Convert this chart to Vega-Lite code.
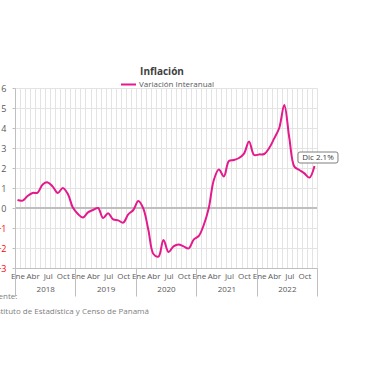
{
  "$schema": "https://vega.github.io/schema/vega-lite/v6.json",
  "width": 302,
  "height": 180,
  "autosize": {"type": "none"},
  "padding": {"left": 15, "top": 88, "right": 63, "bottom": 112},
  "background": "white",
  "title": {"text": "Inflación", "fontSize": 10, "fontWeight": "bold", "color": "#404040", "offset": -1, "dx": -4, "font": "Open Sans"},
  "config": {"view": {"stroke": null}, "font": "Open Sans"},
  "data": {"values": [
    {"n": 1, "v": 0.4}, {"n": 2, "v": 0.37}, {"n": 3, "v": 0.6}, {"n": 4, "v": 0.75}, {"n": 5, "v": 0.77}, {"n": 6, "v": 1.18},
    {"n": 7, "v": 1.28}, {"n": 8, "v": 1.07}, {"n": 9, "v": 0.75}, {"n": 10, "v": 1.0}, {"n": 11, "v": 0.7}, {"n": 12, "v": 0.02},
    {"n": 13, "v": -0.3}, {"n": 14, "v": -0.48}, {"n": 15, "v": -0.22}, {"n": 16, "v": -0.1}, {"n": 17, "v": 0.0}, {"n": 18, "v": -0.5},
    {"n": 19, "v": -0.26}, {"n": 20, "v": -0.57}, {"n": 21, "v": -0.62}, {"n": 22, "v": -0.73}, {"n": 23, "v": -0.32}, {"n": 24, "v": -0.1},
    {"n": 25, "v": 0.35}, {"n": 26, "v": -0.03}, {"n": 27, "v": -1.1}, {"n": 28, "v": -2.3}, {"n": 29, "v": -2.43}, {"n": 30, "v": -1.6},
    {"n": 31, "v": -2.2}, {"n": 32, "v": -1.92}, {"n": 33, "v": -1.83}, {"n": 34, "v": -1.92}, {"n": 35, "v": -2.02}, {"n": 36, "v": -1.58},
    {"n": 37, "v": -1.4}, {"n": 38, "v": -0.85}, {"n": 39, "v": 0.0}, {"n": 40, "v": 1.4}, {"n": 41, "v": 1.92}, {"n": 42, "v": 1.58},
    {"n": 43, "v": 2.35}, {"n": 44, "v": 2.4}, {"n": 45, "v": 2.5}, {"n": 46, "v": 2.72}, {"n": 47, "v": 3.32}, {"n": 48, "v": 2.65},
    {"n": 49, "v": 2.68}, {"n": 50, "v": 2.7}, {"n": 51, "v": 3.0}, {"n": 52, "v": 3.48}, {"n": 53, "v": 4.0}, {"n": 54, "v": 5.15},
    {"n": 55, "v": 3.5}, {"n": 56, "v": 2.07}, {"n": 57, "v": 1.9}, {"n": 58, "v": 1.73}, {"n": 59, "v": 1.52}, {"n": 60, "v": 2.1}
  ]},
  "layer": [
    {
      "mark": {"type": "rule", "color": "#BFBFBF", "strokeWidth": 2},
      "encoding": {
        "x": {"datum": 0.5, "type": "quantitative", "scale": {"domain": [0.5, 60.5], "nice": false, "zero": false},
          "axis": {"orient": "bottom", "values": [0.5,1.5,2.5,3.5,4.5,5.5,6.5,7.5,8.5,9.5,10.5,11.5,12.5,13.5,14.5,15.5,16.5,17.5,18.5,19.5,20.5,21.5,22.5,23.5,24.5,25.5,26.5,27.5,28.5,29.5,30.5,31.5,32.5,33.5,34.5,35.5,36.5,37.5,38.5,39.5,40.5,41.5,42.5,43.5,44.5,45.5,46.5,47.5,48.5,49.5,50.5,51.5,52.5,53.5,54.5,55.5,56.5,57.5,58.5,59.5,60.5],
            "grid": true, "gridColor": "#E3E3E3", "gridWidth": 1, "labels": false, "ticks": false, "domain": true, "domainColor": "#BFBFBF", "title": null}},
        "x2": {"datum": 60.5},
        "y": {"datum": 0, "type": "quantitative", "scale": {"domain": [-3, 6], "nice": false, "zero": false},
          "axis": {"orient": "left", "values": [-3,-2,-1,0,1,2,3,4,5,6], "grid": true, "gridColor": "#E3E3E3", "domain": true, "domainColor": "#BFBFBF",
            "ticks": true, "tickSize": 3, "tickColor": "#BFBFBF", "labelPadding": 6, "labelFontSize": 9,
            "labelColor": {"condition": {"test": "datum.value < 0", "value": "#FF0000"}, "value": "#595959"}, "title": null}}
      }
    },
    {
      "mark": {"type": "line", "interpolate": "catmull-rom", "strokeWidth": 2},
      "encoding": {
        "x": {"field": "n", "type": "quantitative",
          "axis": {"orient": "bottom", "values": [1,4,7,10,13,16,19,22,25,28,31,34,37,40,43,46,49,52,55,58],
            "labelExpr": "['Ene','Abr','Jul','Oct'][((datum.value-1)%12)/3]", "grid": false, "ticks": false, "domain": false,
            "labelFontSize": 8, "labelColor": "#595959", "labelPadding": 4, "labelFlush": false, "labelOverlap": false, "title": null}},
        "y": {"field": "v", "type": "quantitative", "axis": null},
        "color": {"datum": "Variación Interanual", "type": "nominal", "scale": {"range": ["#E3198C"]},
          "legend": {"orient": "none", "legendX": 105, "legendY": -12, "title": null, "symbolType": "stroke", "symbolSize": 225,
            "symbolStrokeWidth": 2, "labelFontSize": 8, "labelColor": "#595959", "labelOffset": 2, "padding": 0, "direction": "horizontal"}}
      }
    },
    {
      "data": {"values": [{"n": 60, "v": 2.1, "label": "Dic 2.1%"}]},
      "mark": {"type": "point", "shape": "M-0.9,-0.275L0.9,-0.275Q1,-0.275,1,-0.175L1,0.175Q1,0.275,0.9,0.275L-0.9,0.275Q-1,0.275,-1,0.175L-1,-0.175Q-1,-0.275,-0.9,-0.275Z",
        "size": 1600, "filled": true, "fill": "white", "stroke": "#7F7F7F", "strokeWidth": 1, "opacity": 1, "xOffset": 3.5, "yOffset": -8.5},
      "encoding": {
        "x": {"field": "n", "type": "quantitative",
          "axis": {"orient": "bottom", "values": [6.5,18.5,30.5,42.5,54.5], "labelExpr": "'' + (2018 + floor(datum.value/12))", "ticks": false, "domain": false,
            "grid": false, "labelPadding": 17, "labelFontSize": 8, "labelColor": "#595959", "title": null}},
        "y": {"field": "v", "type": "quantitative", "axis": null}
      }
    },
    {
      "data": {"values": [{"n": 60, "v": 2.1, "label": "Dic 2.1%"}]},
      "mark": {"type": "text", "fontSize": 8, "color": "#404040", "xOffset": 3.5, "yOffset": -8.5},
      "encoding": {
        "x": {"field": "n", "type": "quantitative",
          "axis": {"orient": "bottom", "values": [0.5,12.5,24.5,36.5,48.5,60.5], "ticks": true, "tickSize": 28, "tickColor": "#BFBFBF", "labels": false,
            "domain": false, "grid": false, "title": ["Fuente:", "Instituto de Estadística y Censo de Panamá"], "titleX": -26, "titleY": 24,
            "titleAlign": "left", "titleAnchor": "start", "titleBaseline": "top", "titleFontWeight": "normal", "titleFontSize": 8,
            "titleColor": "#808080", "titleLineHeight": 15}},
        "y": {"field": "v", "type": "quantitative", "axis": null},
        "text": {"field": "label"}
      }
    }
  ],
  "resolve": {"axis": {"x": "independent", "y": "independent"}}
}
